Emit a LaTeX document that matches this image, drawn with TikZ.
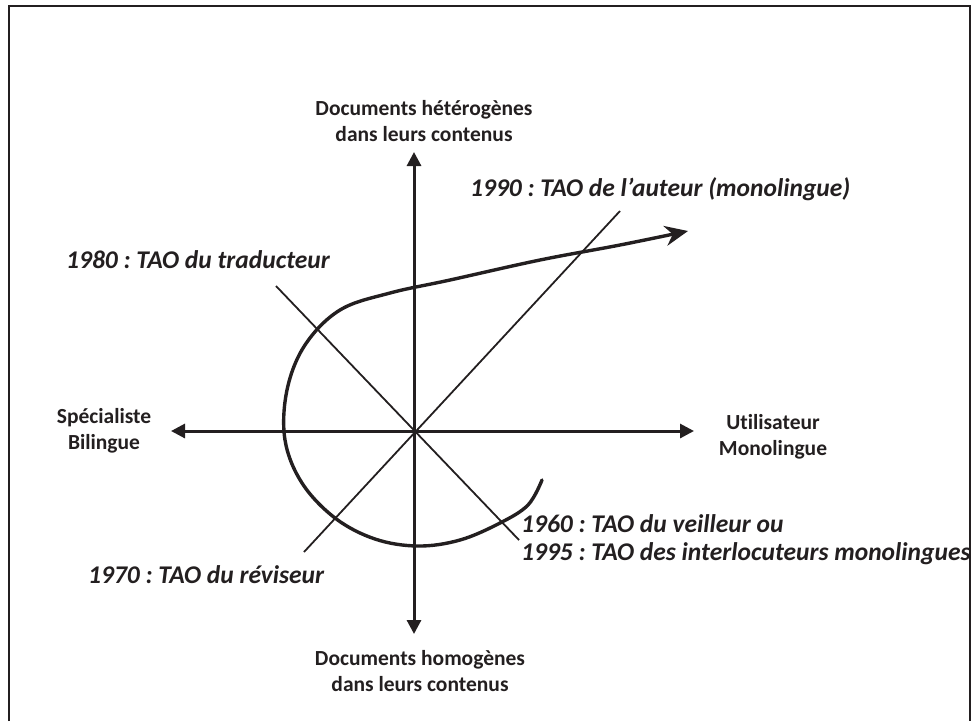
\documentclass[tikz,border=0pt]{standalone}
\usepackage{fontspec}
\setmainfont{Carlito}[Ligatures=NoCommon]
\usetikzlibrary{arrows.meta}
\definecolor{ink}{HTML}{231F20}
\frenchspacing
\begin{document}
\begin{tikzpicture}[x=1pt,y=-1pt,
  axis/.style={draw=ink, line width=3pt, {Triangle[length=14pt,width=14pt]}-{Triangle[length=14pt,width=14pt]}},
  diag/.style={draw=ink, line width=1.8pt},
  axislabel/.style={font=\fontsize{21.5}{25.5}\selectfont\bfseries, align=center, text=ink, inner sep=0pt},
  era/.style={font=\fontsize{25.5}{28}\selectfont\bfseries\itshape, text=ink, inner sep=0pt, anchor=base west, align=left}]
\useasboundingbox (0,0) rectangle (973,721);
% frame
\draw[ink, line width=2pt] (9,721) -- (9,6) -- (970,6) -- (970,721);
% coordinates
\coordinate (O) at (414,431);
\coordinate (top) at (414,152);
\coordinate (bot) at (414,634);
\coordinate (left) at (171,431);
\coordinate (right) at (694,431);
\coordinate (ne) at (620,211);
\coordinate (sw) at (304,552);
\coordinate (nw) at (276,286);
\coordinate (se) at (519,540);
% axes
\draw[axis] (bot) -- (top);
\draw[axis] (left) -- (right);
% diagonals
\draw[diag] (sw) -- (ne);
\draw[diag] (nw) -- (se);
% spiral curve
\draw[ink, line width=3.4pt, line cap=round, -{Stealth[length=23pt,width=20pt]}]
  plot[smooth, tension=0.6] coordinates {(542,480) (528,505) (500,523) (460,540) (418,546) (375,539) (335,518) (302,483) (285,440) (287,390) (305,345) (340,310) (390,293) (450,280) (540,260) (620,245) (688,231)};
% axis labels
\node[axislabel] (hetero) at (424,121) {Documents hétérogènes\\dans leurs contenus};
\node[axislabel] (homo) at (420,671) {Documents homogènes\\dans leurs contenus};
\node[axislabel] (spec) at (104,431) {Spécialiste\\Bilingue};
\node[axislabel] (util) at (773,437) {Utilisateur\\Monolingue};
% era labels
\node[era] (e1990) at (470,196) {1990 : TAO de l’auteur (monolingue)};
\node[era] (e1980) at (66,268) {1980 : TAO du traducteur};
\node[era] (e1970) at (88,583) {1970 : TAO du réviseur};
\begin{scope}
\clip (0,0) rectangle (969,721);
\node[era] (e1960) at (521,532) {1960 : TAO du veilleur ou};
\node[era] (e1995) at (521,560) {1995 : TAO des interlocuteurs monolingues};
\end{scope}
\end{tikzpicture}
\end{document}
